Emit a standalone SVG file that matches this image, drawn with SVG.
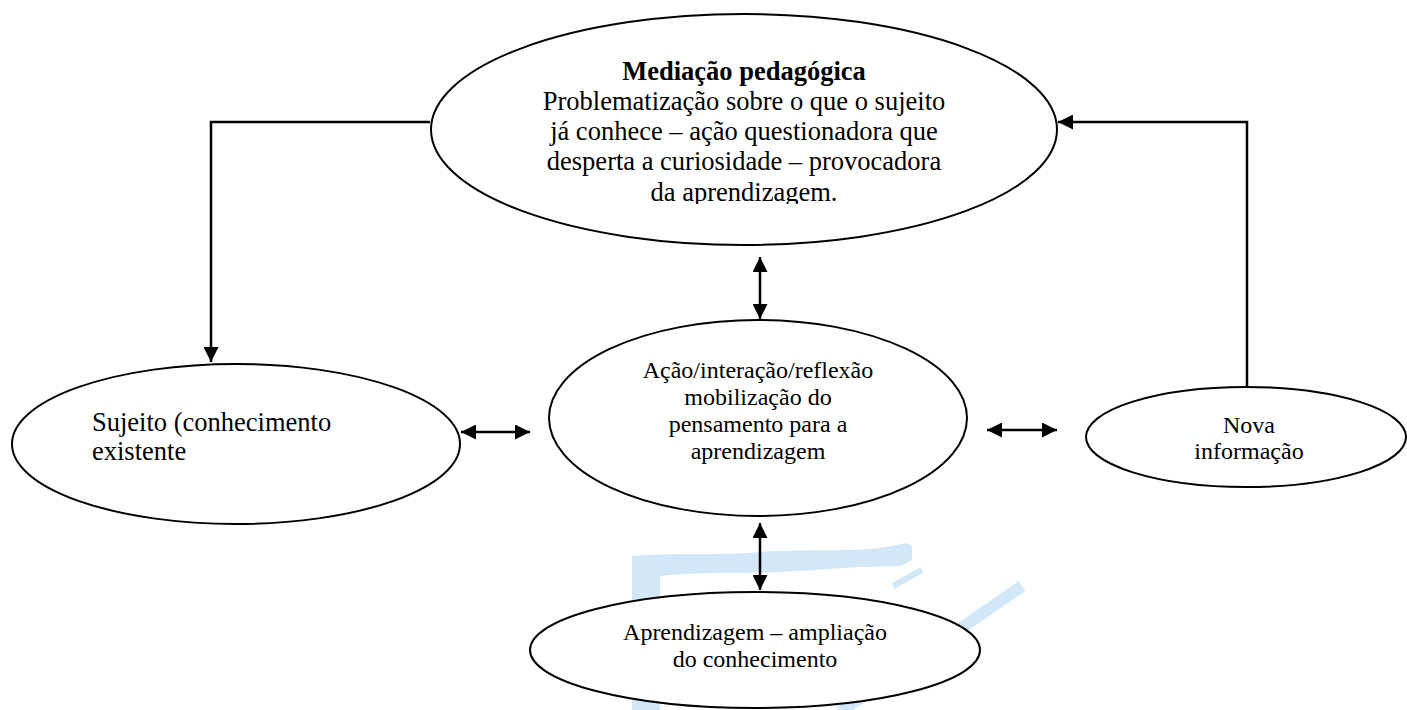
<svg xmlns="http://www.w3.org/2000/svg" width="1407" height="710" viewBox="0 0 1407 710">
<style>
.node{fill:#fff;stroke:#000;stroke-width:2}
.t{font-family:"Liberation Serif","Times New Roman",serif;fill:#000;text-anchor:middle}
.ts{text-anchor:start}
.conn{fill:none;stroke:#000;stroke-width:2.5}
.wm{fill:#d2e8f9;stroke:none}
.wms{fill:none;stroke:#d2e8f9}
</style>
<defs>
<marker id="ah" viewBox="0 0 10 10" refX="10" refY="5" markerWidth="6" markerHeight="6" orient="auto-start-reverse" markerUnits="strokeWidth">
<path d="M0,0 L10,5 L0,10 z" fill="#000"/>
</marker>
<clipPath id="clipTop"><rect x="430" y="14" width="630" height="190"/></clipPath>
</defs>
<rect width="1407" height="710" fill="#fff"/>
<g id="watermark">
<path class="wm" d="M632,556 C680,552 720,556 760,552 C800,549 840,552 880,548 L906,543 L912,546 L912,560 L900,566 C860,566 820,570 780,572 C740,574 700,572 660,576 L660,710 L632,710 Z"/>
<path class="wms" d="M893,586 L922,570" stroke-width="6"/>
<path class="wms" d="M840,712 L1022,586" stroke-width="12"/>
</g>
<g id="connectors">
<path class="conn" d="M430,122 H211 V362" marker-end="url(#ah)"/>
<path class="conn" d="M1247,388 V122 H1058" marker-end="url(#ah)"/>
<path class="conn" d="M760,257 V319" marker-start="url(#ah)" marker-end="url(#ah)"/>
<path class="conn" d="M760,523 V590" marker-start="url(#ah)" marker-end="url(#ah)"/>
<path class="conn" d="M461,432 H530" marker-start="url(#ah)" marker-end="url(#ah)"/>
<path class="conn" d="M987,430 H1057" marker-start="url(#ah)" marker-end="url(#ah)"/>
</g>
<g id="mediacao">
<ellipse class="node" cx="744" cy="129.5" rx="313" ry="115.5"/>
<g clip-path="url(#clipTop)">
<text class="t" x="744" y="80" font-size="26.5" font-weight="bold">Mediação pedagógica</text>
<text class="t" x="744" y="110" font-size="26.5">Problematização sobre o que o sujeito</text>
<text class="t" x="744" y="140" font-size="26.5">já conhece – ação questionadora que</text>
<text class="t" x="744" y="170" font-size="26.5">desperta a curiosidade – provocadora</text>
<text class="t" x="744" y="201" font-size="26.5">da aprendizagem.</text>
</g>
</g>
<g id="sujeito">
<ellipse class="node" cx="236" cy="444" rx="224" ry="80"/>
<text class="t ts" x="92" y="431" font-size="26.5">Sujeito (conhecimento</text>
<text class="t ts" x="92" y="460" font-size="26.5">existente</text>
</g>
<g id="acao">
<ellipse class="node" cx="758" cy="418" rx="209" ry="98"/>
<text class="t" x="758" y="378" font-size="24">Ação/interação/reflexão</text>
<text class="t" x="758" y="405" font-size="24">mobilização do</text>
<text class="t" x="758" y="432" font-size="24">pensamento para a</text>
<text class="t" x="758" y="459" font-size="24">aprendizagem</text>
</g>
<g id="nova">
<ellipse class="node" cx="1246" cy="437" rx="160" ry="50"/>
<text class="t" x="1249" y="433" font-size="24">Nova</text>
<text class="t" x="1249" y="459" font-size="24">informação</text>
</g>
<g id="aprendizagem">
<ellipse class="node" cx="755" cy="650" rx="225" ry="58"/>
<text class="t" x="755" y="640" font-size="24">Aprendizagem – ampliação</text>
<text class="t" x="755" y="667" font-size="24">do conhecimento</text>
</g>
</svg>
